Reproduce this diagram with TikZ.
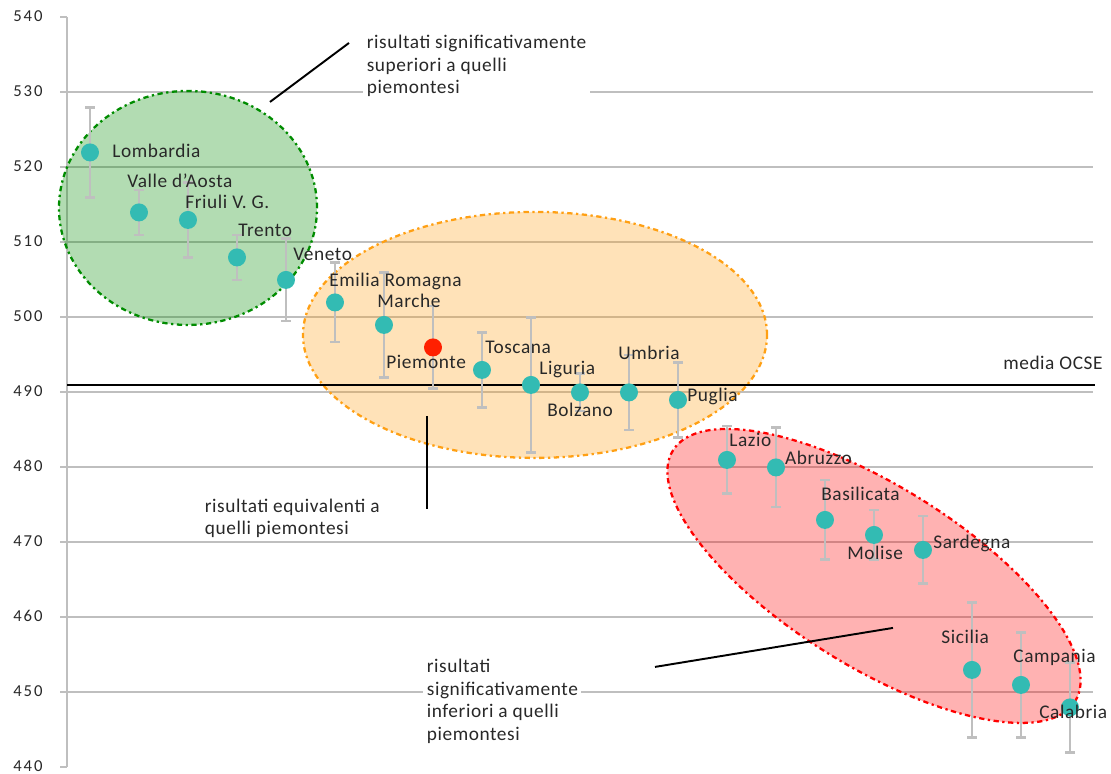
\documentclass[tikz,border=0pt]{standalone}
\usepackage{fontspec}
\setmainfont{Carlito}[LetterSpace=3]
\usetikzlibrary{shapes.geometric}

\definecolor{griglia}{RGB}{191,191,191}
\definecolor{punto}{RGB}{51,187,179}
\definecolor{piem}{RGB}{255,32,0}
\definecolor{verde}{RGB}{0,140,0}
\definecolor{arancio}{RGB}{255,160,20}
\definecolor{rosso}{RGB}{255,0,0}
\definecolor{testo}{RGB}{40,40,40}

\tikzset{
  griglia/.style={draw=griglia, line width=1.1pt},
  barra/.style={draw=griglia, line width=1.4pt},
  punto/.style={circle, fill=punto, minimum size=0.36cm, inner sep=0pt},
  etichetta/.style={anchor=mid west, inner sep=0pt, text=testo, font=\fontsize{11}{12.8}\selectfont},
  asse/.style={anchor=east, inner sep=0pt, text=testo, font=\fontsize{9.5}{11}\selectfont\addfontfeature{LetterSpace=12}},
  nota/.style={anchor=west, align=left, fill=white, inner sep=2pt, text=testo, font=\fontsize{11}{12.8}\selectfont},
  richiamo/.style={draw=black, line width=1.1pt},
  zona/.style={ellipse, inner sep=0pt, line width=1.3pt, dash dot, fill opacity=0.3},
}

\begin{document}
\begin{tikzpicture}[x=0.98cm, y=0.15cm]
\useasboundingbox (-1.8367,439.133) rectangle (20.837,542.333);

% griglia e asse
\foreach \v in {450,460,...,530}
  \draw[griglia] (-0.469,\v) -- (20.469,\v);
\foreach \v in {440,450,...,540} {
  \draw[griglia] (-0.612,\v) -- (-0.469,\v);
  \node[asse] (y\v) at (-0.959,\v+0.2) {\v};
}
\draw[griglia, line width=1.4pt] (-0.469,440) -- (-0.469,540);

% gruppi
\node[zona, draw=verde, fill=verde, minimum width=5.16cm, minimum height=4.68cm] (superiori) at (2.0,514.6) {};
\node[zona, draw=arancio, fill=arancio, minimum width=9.28cm, minimum height=4.92cm] (equivalenti) at (9.082,497.67) {};
\node[zona, draw=rosso, fill=rosso, minimum width=9.48cm, minimum height=3.6cm, rotate=-32] (inferiori) at (16.0,465.53) {};

% media OCSE
\draw[line width=1.3pt] (-0.469,491) -- (20.51,491);
\node[etichetta, anchor=mid east] (ocse) at (20.673,493.6) {media OCSE};

% punteggi e intervalli
\foreach \i/\v/\e/\c in {0/522/6/punto, 1/514/3/punto, 2/513/5/punto, 3/508/3/punto,
    4/505/5.5/punto, 5/502/5.3/punto, 6/499/7/punto, 7/496/5.5/piem, 8/493/5/punto,
    9/491/9/punto, 10/490/2.5/punto, 11/490/5/punto, 12/489/5/punto, 13/481/4.5/punto,
    14/480/5.3/punto, 15/473/5.3/punto, 16/471/3.3/punto, 17/469/4.5/punto,
    18/453/9/punto, 19/451/7/punto, 20/448/6/punto} {
  \draw[barra] (\i,{\v-\e}) -- (\i,{\v+\e});
  \draw[barra] ({\i-0.1},{\v-\e}) -- ({\i+0.1},{\v-\e});
  \draw[barra] ({\i-0.1},{\v+\e}) -- ({\i+0.1},{\v+\e});
  \node[punto, fill=\c] (p\i) at (\i,\v) {};
}

% nomi delle regioni
\foreach \i/\lx/\ly/\nome in {0/0.449/521.9/Lombardia, 1/0.755/517.9/{Valle d'Aosta},
    2/1.939/515.1/{Friuli V. G.}, 3/3.02/511.4/Trento, 4/4.143/508.2/Veneto,
    5/4.878/504.7/{Emilia Romagna}, 6/5.857/501.9/Marche, 7/6.04/493.7/Piemonte,
    8/8.06/495.8/Toscana, 9/9.163/492.9/Liguria, 10/9.327/487.3/Bolzano,
    11/10.776/494.9/Umbria, 12/12.184/489.3/Puglia, 13/13.04/483.4/Lazio,
    14/14.18/480.9/Abruzzo, 15/14.918/476.1/Basilicata, 16/15.449/468.3/Molise,
    17/17.204/469.8/Sardegna, 18/17.367/457.1/Sicilia, 19/18.837/454.5/Campania,
    20/19.367/447.1/Calabria}
  \node[etichetta] (n\i) at (\lx,\ly) {\nome};

% note
\node[nota] (nota-sup) at (5.571,533.53) {risultati significativamente\\superiori a quelli\\piemontesi};
\node[nota] (nota-equ) at (2.265,473.2) {risultati equivalenti a\\quelli piemontesi};
\node[nota] (nota-inf) at (6.796,448.8) {risultati\\significativamente\\inferiori a quelli\\piemontesi};

\coordinate (sup-a) at (3.673,528.73);
\coordinate (sup-b) at (5.286,536.6);
\coordinate (equ-a) at (6.878,486.87);
\coordinate (equ-b) at (6.878,474.47);
\coordinate (inf-a) at (11.531,453.4);
\coordinate (inf-b) at (16.388,458.6);
\draw[richiamo] (sup-a) -- (sup-b);
\draw[richiamo] (equ-a) -- (equ-b);
\draw[richiamo] (inf-a) -- (inf-b);
\end{tikzpicture}
\end{document}
